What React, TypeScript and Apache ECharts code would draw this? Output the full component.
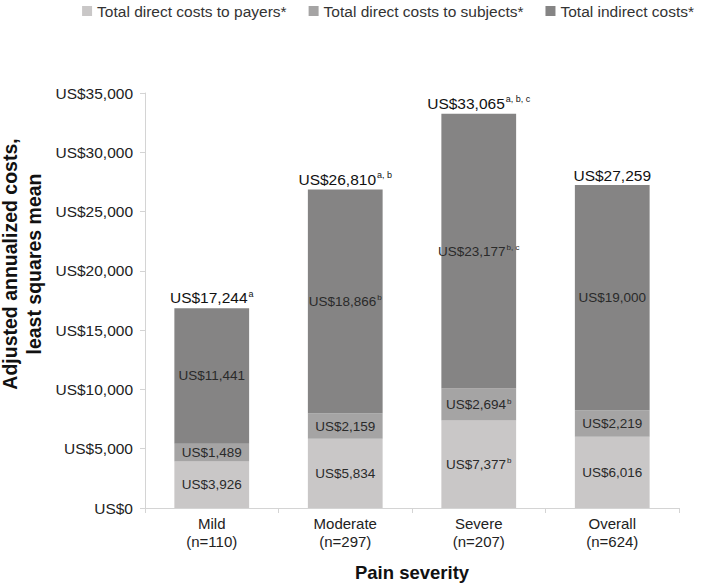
import React, { useEffect, useRef } from "react";
import * as echarts from "echarts";

const categories = ["Mild\n(n=110)", "Moderate\n(n=297)", "Severe\n(n=207)", "Overall\n(n=624)"];
const seriesNames = [
  "Total direct costs to payers*",
  "Total direct costs to subjects*",
  "Total indirect costs*",
];
const payers = [3926, 5834, 7377, 6016];
const payersSup = ["", "", "b", ""];
const subjects = [1489, 2159, 2694, 2219];
const subjectsSup = ["", "", "b", ""];
const indirect = [11441, 18866, 23177, 19000];
const indirectSup = ["", "b", "b, c", ""];
const totals = [17244, 26810, 33065, 27259];
const totalsSup = ["a", "a, b", "a, b, c", ""];
const yTicks = { min: 0, max: 35000, interval: 5000 };
const yTitle = "Adjusted annualized costs,\nleast squares mean";
const xTitle = "Pain severity";

const colors = ["#c9c7c7", "#a5a4a4", "#858484"];
const font = "Liberation Sans";

const fmt = (v: number) => "US$" + v.toLocaleString("en-US");

function innerLabel(sups: string[]) {
  return {
    show: true,
    position: "inside",
    formatter: (p: any) => {
      const s = sups[p.dataIndex];
      return s ? `{v|${fmt(p.value)}}{s|${s}}` : `{v|${fmt(p.value)}}`;
    },
    rich: {
      v: { fontSize: 13.5, color: "#2a2a2a", fontFamily: font },
      s: { fontSize: 8, color: "#2a2a2a", fontFamily: font, verticalAlign: "top", padding: [0, 0, 7, 1] },
    },
  };
}

export default function App() {
  const ref = useRef<HTMLDivElement>(null);
  useEffect(() => {
    document.body.style.margin = "0";
    const chart = echarts.init(ref.current!, null, { renderer: "svg" });
    chart.setOption({
      animation: false,
      backgroundColor: "#ffffff",
      textStyle: { fontFamily: font },
      color: colors,
      legend: {
        top: 3,
        right: 9,
        padding: 0,
        icon: "rect",
        itemWidth: 10,
        itemHeight: 10,
        itemGap: 22,
        textStyle: { fontSize: 15.5, color: "#333", fontFamily: font },
        data: seriesNames,
      },
      graphic: [
        {
          type: "text",
          x: 22,
          y: 264,
          rotation: Math.PI / 2,
          style: {
            text: yTitle,
            font: `bold 19.5px "${font}"`,
            fill: "#111",
            align: "center",
            verticalAlign: "middle",
            lineHeight: 24,
          },
        },
      ],
      grid: { left: 145, right: 24, top: 93, bottom: 78, outerBoundsMode: "none", containLabel: false },
      xAxis: {
        type: "category",
        data: categories,
        name: xTitle,
        nameLocation: "middle",
        nameGap: 55,
        nameTextStyle: { fontSize: 18.5, fontWeight: "bold", color: "#111", fontFamily: font },
        axisLine: { lineStyle: { color: "#d4d4d4" } },
        axisTick: { show: true, length: 5, lineStyle: { color: "#d4d4d4" } },
        axisLabel: { fontSize: 15, color: "#222", margin: 6, lineHeight: 18, fontFamily: font },
      },
      yAxis: {
        type: "value",
        min: yTicks.min,
        max: yTicks.max,
        interval: yTicks.interval,
        axisLine: { show: true, lineStyle: { color: "#d4d4d4" } },
        axisTick: { show: true, length: 5, lineStyle: { color: "#d4d4d4" } },
        splitLine: { show: false },
        axisLabel: {
          fontSize: 15.5,
          color: "#222",
          margin: 12,
          fontFamily: font,
          formatter: (v: number) => fmt(v),
        },
      },
      series: [
        {
          name: seriesNames[0],
          type: "bar",
          stack: "c",
          barWidth: "56%",
          data: payers,
          label: innerLabel(payersSup),
        },
        {
          name: seriesNames[1],
          type: "bar",
          stack: "c",
          data: subjects,
          label: innerLabel(subjectsSup),
        },
        {
          name: seriesNames[2],
          type: "bar",
          stack: "c",
          data: indirect,
          label: innerLabel(indirectSup),
        },
        {
          name: "totals",
          type: "bar",
          stack: "c",
          data: totals.map(() => 0),
          itemStyle: { color: "transparent" },
          label: {
            show: true,
            position: "top",
            distance: 2,
            formatter: (p: any) => {
              const s = totalsSup[p.dataIndex];
              const t = fmt(totals[p.dataIndex]);
              return s ? `{v|${t}}{s|${s}}` : `{v|${t}}`;
            },
            rich: {
              v: { fontSize: 15.5, color: "#111", fontFamily: font },
              s: { fontSize: 9, color: "#111", fontFamily: font, verticalAlign: "top", padding: [0, 0, 8, 1] },
            },
          },
        },
      ],
    });
    return () => chart.dispose();
  }, []);
  return <div ref={ref} style={{ width: 703, height: 586 }} />;
}
